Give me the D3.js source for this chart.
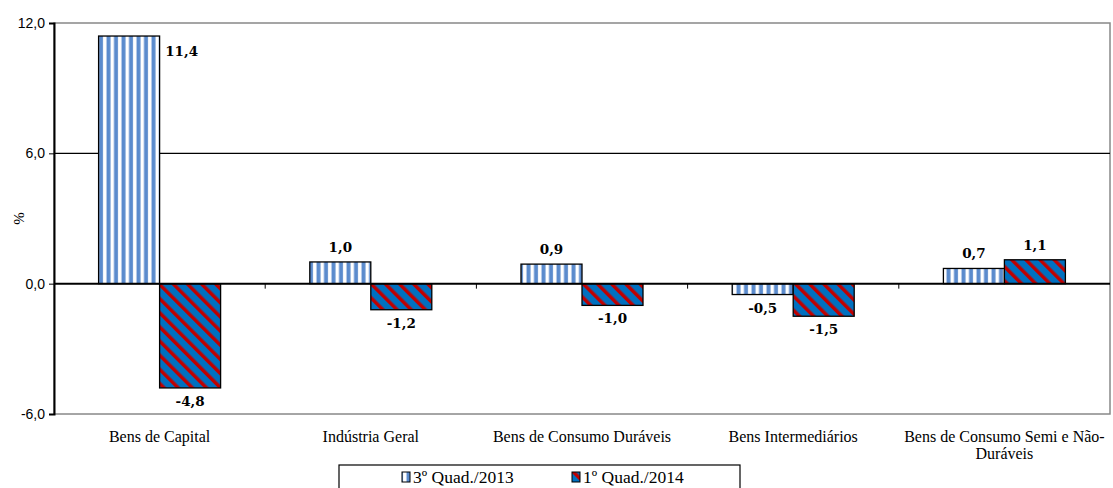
<!DOCTYPE html>
<html>
<head>
<meta charset="utf-8">
<script src="https://cdn.jsdelivr.net/npm/d3@7"></script>
<style>
  body { margin: 0; background: #fff; }
  svg { display: block; }
</style>
</head>
<body>
<div id="chart"></div>
<script>
const categories = ["Bens de Capital", "Indústria Geral", "Bens de Consumo Duráveis", "Bens Intermediários", "Bens de Consumo Semi e Não-Duráveis"];
const seriesNames = ["3º Quad./2013", "1º Quad./2014"];
const q3_2013 = [11.4, 1.0, 0.9, -0.5, 0.7];
const q1_2014 = [-4.8, -1.2, -1.0, -1.5, 1.1];
const yTicks = [-6, 0, 6, 12];

const width = 1113, height = 488;
const plotL = 54, plotR = 1110, plotT = 23, plotB = 414;

const svg = d3.select("#chart").append("svg").attr("width", width).attr("height", height);
const defs = svg.append("defs");

// vertical stripes
let p1 = defs.append("pattern").attr("id", "vstripe").attr("patternUnits", "userSpaceOnUse")
    .attr("width", 7.5).attr("height", 10);
p1.append("rect").attr("width", 7.5).attr("height", 10).attr("fill", "#fff");
p1.append("rect").attr("x", 1.5).attr("width", 4).attr("height", 10).attr("fill", "#5b8bcd");

// diagonal stripes
let p2 = defs.append("pattern").attr("id", "dstripe").attr("patternUnits", "userSpaceOnUse")
    .attr("width", 10).attr("height", 10).attr("patternTransform", "rotate(-45)");
p2.append("rect").attr("width", 10).attr("height", 10).attr("fill", "#0070c0");
p2.append("rect").attr("width", 3.5).attr("height", 10).attr("fill", "#c00000");

const fills = ["url(#vstripe)", "url(#dstripe)"];

const locale = d3.formatLocale({ decimal: ",", thousands: ".", grouping: [3], currency: ["", ""], minus: "-" });
const fmt = locale.format(".1f");

const x = d3.scaleBand().domain(categories).range([plotL, plotR]);
const y = d3.scaleLinear().domain([-6, 12]).range([plotB, plotT]);
const barW = 61;

// plot border (grey) and gridlines
svg.append("rect").attr("x", plotL).attr("y", plotT).attr("width", plotR - plotL).attr("height", plotB - plotT)
    .attr("fill", "none").attr("stroke", "#888").attr("stroke-width", 1.5);
svg.append("g").selectAll("line").data([6]).join("line")
    .attr("x1", plotL).attr("x2", plotR).attr("y1", d => y(d)).attr("y2", d => y(d))
    .attr("stroke", "#000").attr("stroke-width", 1.3);

// bars
const data = [];
categories.forEach((c, i) => {
    data.push({ c: c, s: 0, v: q3_2013[i] });
    data.push({ c: c, s: 1, v: q1_2014[i] });
});
const bx = d => x(d.c) + x.bandwidth() / 2 + (d.s === 0 ? -barW : 0);

svg.append("g").selectAll("rect").data(data).join("rect")
    .attr("x", bx)
    .attr("y", d => y(Math.max(0, d.v)))
    .attr("width", barW)
    .attr("height", d => Math.abs(y(d.v) - y(0)))
    .attr("fill", d => fills[d.s])
    .attr("stroke", "#000").attr("stroke-width", 1.3);

// zero line and y axis
svg.append("line").attr("x1", plotL).attr("x2", plotR).attr("y1", y(0)).attr("y2", y(0))
    .attr("stroke", "#000").attr("stroke-width", 2);

const yAxis = svg.append("g").attr("transform", `translate(${plotL},0)`)
    .call(d3.axisLeft(y).tickValues(yTicks).tickSize(5).tickFormat(fmt));
yAxis.select(".domain").attr("stroke", "#000").attr("stroke-width", 2);
yAxis.selectAll(".tick line").attr("stroke", "#000");
yAxis.selectAll("text").attr("font-family", "'Liberation Sans', Arial, sans-serif").attr("font-size", 14).attr("fill", "#000").attr("dx", -1);

// category boundary ticks on zero line
svg.append("g").selectAll("line").data(categories.slice(1)).join("line")
    .attr("x1", d => x(d)).attr("x2", d => x(d))
    .attr("y1", y(0)).attr("y2", y(0) + 5)
    .attr("stroke", "#000").attr("stroke-width", 1);

// y title
svg.append("text").attr("transform", `translate(24,${(plotT + plotB) / 2}) rotate(-90)`)
    .attr("text-anchor", "middle").attr("font-family", "'Liberation Serif', serif").attr("font-size", 15)
    .text("%");

// value labels
svg.append("g").selectAll("text").data(data).join("text")
    .attr("x", d => (d.s === 0 && d.v > 10) ? bx(d) + barW + 22 : bx(d) + barW / 2)
    .attr("y", d => (d.s === 0 && d.v > 10) ? y(d.v) + 20 : (d.v >= 0 ? y(d.v) - 10 : y(d.v) + 18))
    .attr("text-anchor", "middle")
    .attr("font-family", "'DejaVu Serif', serif").attr("font-weight", "bold").attr("font-size", 13.5)
    .text(d => fmt(d.v));

// category labels
const catG = svg.append("g").attr("font-family", "'Liberation Serif', serif").attr("font-size", 16)
    .attr("text-anchor", "middle");
categories.forEach(c => {
    const lines = c === "Bens de Consumo Semi e Não-Duráveis" ? ["Bens de Consumo Semi e Não-", "Duráveis"] : [c];
    lines.forEach((l, j) => {
        catG.append("text").attr("x", x(c) + x.bandwidth() / 2).attr("y", 442 + j * 17).text(l);
    });
});

// legend
const lg = svg.append("g");
lg.append("rect").attr("x", 339).attr("y", 465).attr("width", 401).attr("height", 30)
    .attr("fill", "#fff").attr("stroke", "#000").attr("stroke-width", 1.2);
const legX = [402, 572];
seriesNames.forEach((n, i) => {
    lg.append("rect").attr("x", legX[i]).attr("y", 472).attr("width", 8).attr("height", 10)
        .attr("fill", fills[i]).attr("stroke", "#000").attr("stroke-width", 1);
    lg.append("text").attr("x", legX[i] + 11).attr("y", 483)
        .attr("font-family", "'Liberation Serif', serif").attr("font-size", 17.5).text(n);
});
</script>
</body>
</html>
